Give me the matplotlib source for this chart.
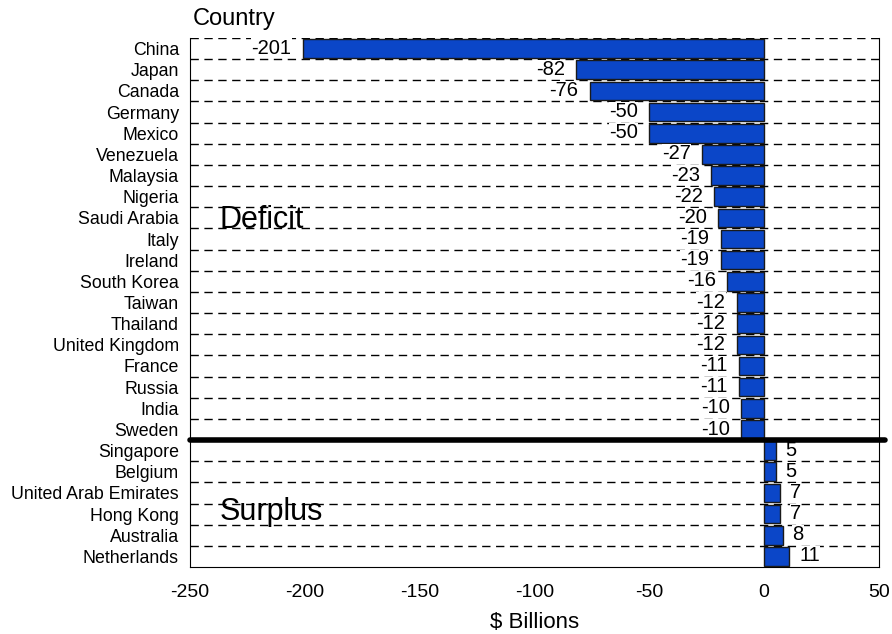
import numpy as np
import matplotlib
matplotlib.use("Agg")
import matplotlib.pyplot as plt

plt.rcParams['font.family'] = ['Liberation Sans', 'DejaVu Sans']

countries = ["China", "Japan", "Canada", "Germany", "Mexico", "Venezuela", "Malaysia",
             "Nigeria", "Saudi Arabia", "Italy", "Ireland", "South Korea", "Taiwan",
             "Thailand", "United Kingdom", "France", "Russia", "India", "Sweden",
             "Singapore", "Belgium", "United Arab Emirates", "Hong Kong", "Australia",
             "Netherlands"]
balance = [-201, -82, -76, -50, -50, -27, -23, -22, -20, -19, -19, -16, -12,
           -12, -12, -11, -11, -10, -10, 5, 5, 7, 7, 8, 11]
xticks = [-250, -200, -150, -100, -50, 0, 50]

fig = plt.figure(figsize=(8.92, 6.34), dpi=100)
ax = fig.add_axes([190/892, 1 - 567/634, (879-190)/892, (567-38)/634])

y = np.arange(len(countries))
ax.barh(y, balance, height=0.88, color='#0b46c8', edgecolor='#1a1a1a', linewidth=1, zorder=3)

# dashed row separators
for b in np.arange(-0.5, len(countries) - 0.5, 1.0):
    ax.axhline(b, color='black', lw=1, ls=(0, (6, 4)), zorder=1)

for yi, v in zip(y, balance):
    if v < 0:
        ax.annotate(str(v), (v, yi - 0.02), xytext=(-8, 0), textcoords='offset points',
                    ha='right', va='center', fontsize=14.5, zorder=4,
                    bbox=dict(facecolor='white', edgecolor='none', pad=0.1))
    else:
        ax.annotate(str(v), (v, yi - 0.02), xytext=(7, 0), textcoords='offset points',
                    ha='left', va='center', fontsize=14.5, zorder=4,
                    bbox=dict(facecolor='white', edgecolor='none', pad=0.1))

# split between deficit and surplus
ax.plot([-250, 52.5], [18.5, 18.5], color='black', lw=4, solid_capstyle='round',
        clip_on=False, zorder=5)
ax.text(-237, 8.1, "Deficit", fontsize=22, va='center', ha='left', zorder=4)
ax.text(-237, 21.9, "Surplus", fontsize=22, va='center', ha='left', zorder=4)

ax.set_xlim(-250, 50)
ax.set_ylim(len(countries) - 0.5, -0.5)
ax.set_xticks(xticks)
ax.set_xticklabels([str(t) for t in xticks], fontsize=14)
ax.set_yticks(y)
ax.set_yticklabels(countries, fontsize=12.8)
ax.tick_params(length=0, pad=8)
ax.tick_params(axis='x', pad=12)
ax.spines['top'].set_visible(False)
ax.set_xlabel("$ Billions", fontsize=16, labelpad=8)
fig.text(193/892, 1 - 19/634, "Country", fontsize=17, ha='left', va='center')

fig.savefig("out.png", dpi=100)
